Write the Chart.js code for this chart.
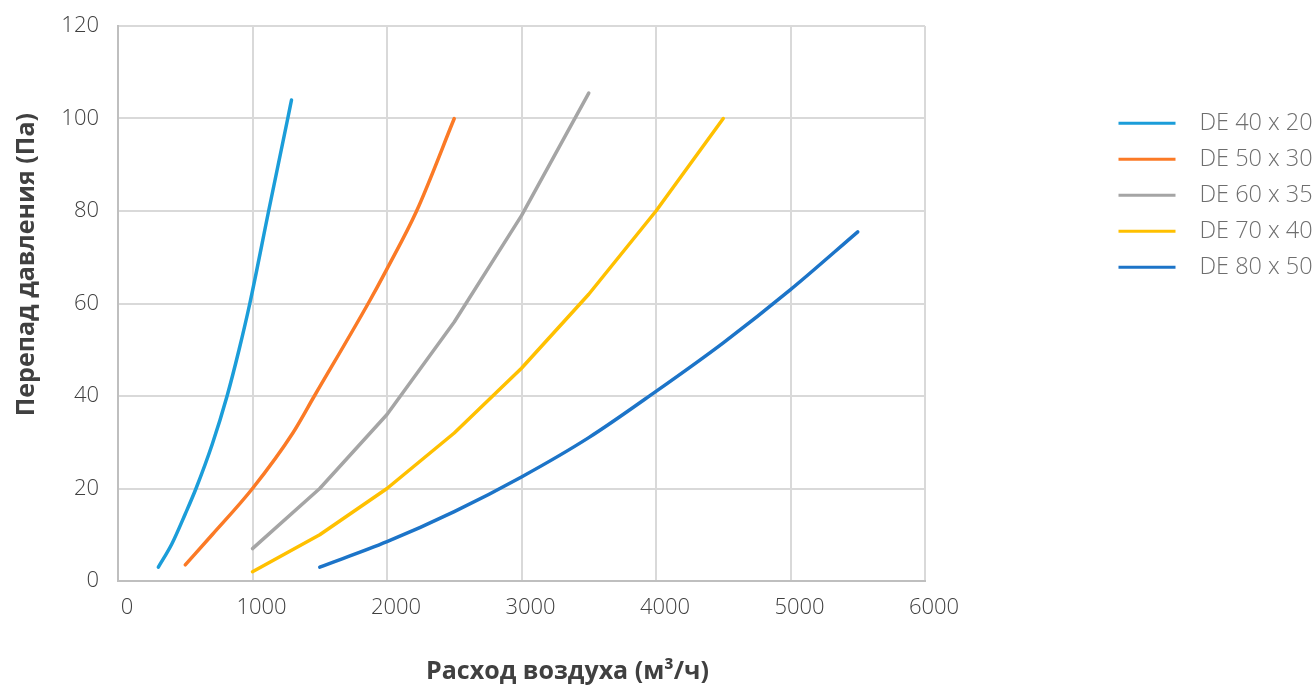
<!DOCTYPE html>
<html>
<head>
<meta charset="utf-8">
<script src="https://cdn.jsdelivr.net/npm/chart.js@4/dist/chart.umd.min.js"></script>
<style>
  html, body { margin: 0; padding: 0; background: #ffffff; }
  #wrap { width: 1316px; height: 687px; position: relative; }
</style>
</head>
<body>
<div id="wrap"><canvas id="c"></canvas></div>
<script>
// ---- data ----
const seriesNames = ['DE 40 x 20', 'DE 50 x 30', 'DE 60 x 35', 'DE 70 x 40', 'DE 80 x 50'];

const flow40x20 = [300, 400, 500, 580, 700, 811, 900, 980, 1120, 1262, 1290];
const dp40x20   = [3, 8, 14.5, 20, 29.5, 40, 50, 60, 80, 100, 104];

const flow50x30 = [500, 700, 1000, 1300, 1460, 1860, 2000, 2220, 2500];
const dp50x30   = [3.5, 10, 20, 32, 40, 60, 67.5, 80, 100];

const flow60x35 = [1000, 1500, 2000, 2500, 3000, 3500];
const dp60x35   = [7, 20, 36, 56, 79, 105.5];

const flow70x40 = [1000, 1500, 2000, 2500, 3000, 3500, 4000, 4500];
const dp70x40   = [2, 10, 20, 32, 46, 62, 80, 100];

const flow80x50 = [1500, 2000, 2500, 3000, 3500, 4000, 4500, 5000, 5500];
const dp80x50   = [3, 8.5, 15, 22.5, 31, 41, 51.5, 63, 75.5];

const smoothSeries = [true, true, false, false, true];

const xTicks = [0, 1000, 2000, 3000, 4000, 5000, 6000];
const yTicks = [0, 20, 40, 60, 80, 100, 120];

const xTitle = 'Расход воздуха (м³/ч)';
const yTitle = 'Перепад давления (Па)';

const colors = ['#1b9dd9', '#fb7a26', '#a5a5a5', '#ffc000', '#1c74c8'];

// ---- build ----
const flows = [flow40x20, flow50x30, flow60x35, flow70x40, flow80x50];
const dps   = [dp40x20, dp50x30, dp60x35, dp70x40, dp80x50];

const datasets = seriesNames.map((name, i) => ({
  label: name,
  data: flows[i].map((x, j) => ({ x: x, y: dps[i][j] })),
  borderColor: colors[i],
  backgroundColor: colors[i],
  borderWidth: 3.5,
  borderCapStyle: 'round',
  borderJoinStyle: 'round',
  pointRadius: 0,
  pointHoverRadius: 0,
  pointStyle: 'line',
  cubicInterpolationMode: smoothSeries[i] ? 'monotone' : 'default',
  tension: 0,
  fill: false
}));

const FONT = '"Open Sans", "Liberation Sans", sans-serif';

const axisTitles = {
  id: 'axisTitles',
  afterDraw(chart) {
    const ctx = chart.ctx;
    const area = chart.chartArea;
    ctx.save();
    ctx.fillStyle = '#404040';
    ctx.font = 'bold 25px ' + FONT;
    ctx.textAlign = 'center';
    ctx.textBaseline = 'middle';
    ctx.fillText(xTitle, area.left + (area.right - area.left) * 0.557, 672);
    ctx.translate(27, area.top + (area.bottom - area.top) * 0.43);
    ctx.rotate(-Math.PI / 2);
    ctx.fillText(yTitle, 0, 0);
    ctx.restore();
  }
};

new Chart(document.getElementById('c'), {
  type: 'line',
  data: { datasets: datasets },
  options: {
    responsive: true,
    maintainAspectRatio: false,
    animation: false,
    layout: { padding: { top: 26, left: 0, right: 0, bottom: 0 } },
    plugins: {
      tooltip: { enabled: false },
      legend: {
        display: true,
        position: 'right',
        align: 'start',
        maxWidth: 210,
        title: { display: true, text: ' ', font: { size: 10, lineHeight: 1 }, padding: { top: 63, bottom: 0 } },
        labels: {
          usePointStyle: true,
          pointStyleWidth: 57,
          padding: 12.5,
          color: '#6e6e6e',
          font: { family: FONT, size: 23.5, weight: 300 },
          generateLabels(chart) {
            const items = Chart.defaults.plugins.legend.labels.generateLabels(chart);
            items.forEach(it => { it.text = '  ' + it.text; it.lineWidth = 3; });
            return items;
          }
        }
      }
    },
    scales: {
      x: {
        type: 'linear',
        position: 'bottom',
        min: 0, max: 6000,
        afterBuildTicks(s) { s.ticks = xTicks.map(v => ({ value: v })); },
        afterFit(s) { s.height = 106; },
        grid: { color: '#d9d9d9', lineWidth: 2, drawTicks: false },
        border: { display: true, color: '#bfbfbf', width: 2 },
        ticks: {
          padding: 14,
          labelOffset: 9,
          color: '#404040',
          callback: v => String(v),
          font: { family: FONT, size: 22, weight: 300 }
        }
      },
      y: {
        type: 'linear',
        position: 'left',
        min: 0, max: 120,
        afterBuildTicks(s) { s.ticks = yTicks.map(v => ({ value: v })); },
        afterFit(s) { s.width = 118; s.paddingTop = 0; s.paddingBottom = 0; },
        grid: { color: '#d9d9d9', lineWidth: 2, drawTicks: false },
        border: { display: true, color: '#bfbfbf', width: 2 },
        ticks: {
          padding: 19,
          color: '#404040',
          callback: v => String(v),
          font: { family: FONT, size: 22, weight: 300 }
        }
      },
      spacer: {
        type: 'linear',
        position: 'right',
        display: true,
        grid: { display: false, drawOnChartArea: false, drawTicks: false },
        border: { display: false },
        ticks: { display: false },
        afterFit(s) {
          const lw = (s.chart.legend && s.chart.legend.width) ? s.chart.legend.width : 210;
          s.width = Math.max(0, s.chart.width - 925 - lw);
          s.paddingTop = 0; s.paddingBottom = 0;
        }
      }
    }
  },
  plugins: [axisTitles]
});
</script>
</body>
</html>
